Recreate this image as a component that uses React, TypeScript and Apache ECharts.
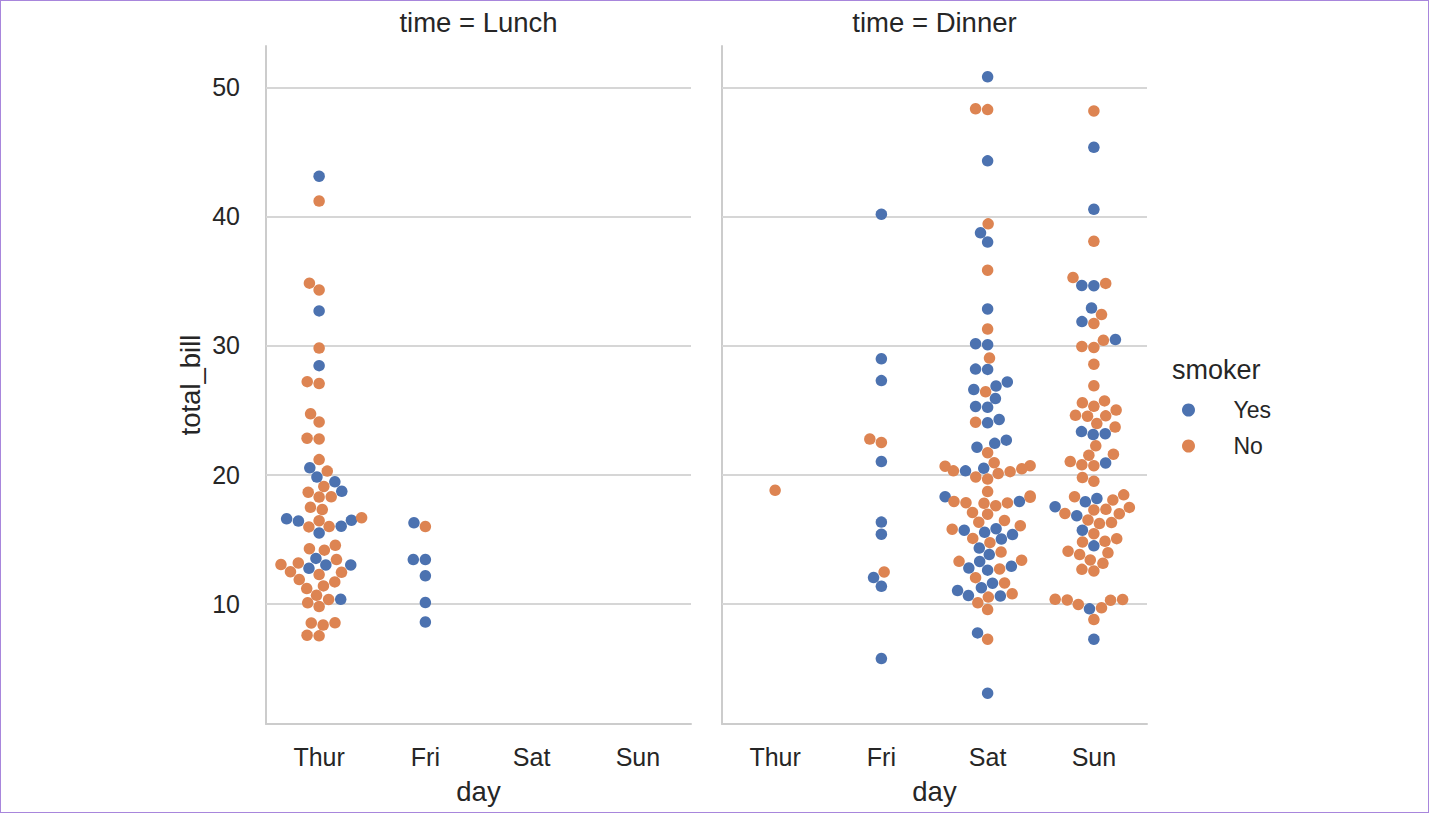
import React, { useEffect, useRef } from "react";
import * as echarts from "echarts";

// ---- categories / ticks ----
const days = ["Thur", "Fri", "Sat", "Sun"];
const yTicks = [10, 20, 30, 40, 50];
const panelTitles = ["time = Lunch", "time = Dinner"];
const hues = ["Yes", "No"];

// ---- total_bill values (tips data) ----
const lunchThurYes = [19.44, 32.68, 16.0, 19.81, 28.44, 15.48, 16.58, 10.34, 43.11, 13.0, 13.51, 18.71, 12.74, 13.0, 16.4, 20.53, 16.47];
const lunchThurNo = [27.2, 22.76, 17.29, 16.66, 10.07, 15.98, 34.83, 13.03, 18.28, 24.71, 21.16, 10.65, 12.43, 24.08, 11.69, 13.42, 14.26, 15.95, 12.48, 29.8, 8.52, 14.52, 11.38, 22.82, 19.08, 20.27, 11.17, 12.26, 18.26, 8.51, 10.33, 14.15, 13.16, 17.47, 34.3, 41.19, 27.05, 16.43, 8.35, 18.64, 11.87, 9.78, 7.51, 7.56];
const lunchFriYes = [12.16, 13.42, 8.58, 13.42, 16.27, 10.09];
const lunchFriNo = [15.98];

const dinnerThurYes: number[] = [];
const dinnerThurNo = [18.78];
const dinnerFriYes = [28.97, 5.75, 16.32, 40.17, 27.28, 12.03, 21.01, 11.35, 15.38];
const dinnerFriNo = [22.49, 22.75, 12.46];
const dinnerSatYes = [38.01, 11.24, 20.29, 13.81, 11.02, 18.29, 3.07, 15.01, 26.86, 25.28, 17.92, 44.3, 22.42, 15.36, 20.49, 25.21, 14.31, 10.59, 10.63, 50.81, 15.81, 26.59, 38.73, 24.27, 12.76, 30.06, 25.89, 13.27, 28.17, 12.9, 28.15, 11.59, 7.74, 30.14, 22.12, 24.01, 15.69, 15.53, 12.6, 32.83, 27.18, 22.67];
const dinnerSatNo = [20.65, 17.92, 20.29, 15.77, 39.42, 19.82, 17.81, 13.37, 12.69, 21.7, 19.65, 9.55, 18.35, 15.06, 20.69, 17.78, 24.06, 16.31, 16.93, 18.69, 31.27, 16.04, 26.41, 48.27, 17.59, 20.08, 16.45, 20.23, 12.02, 17.07, 14.73, 10.51, 20.92, 18.24, 14.0, 7.25, 48.33, 20.45, 13.28, 11.61, 10.77, 10.07, 35.83, 29.03, 17.82];
const dinnerSunYes = [17.51, 7.25, 31.85, 16.82, 32.9, 17.89, 14.48, 9.6, 34.63, 34.65, 23.33, 45.35, 23.17, 40.55, 20.9, 30.46, 18.15, 23.1, 15.69];
const dinnerSunNo = [16.99, 10.34, 21.01, 23.68, 24.59, 25.29, 8.77, 26.88, 15.04, 14.78, 10.27, 35.26, 15.42, 18.43, 14.83, 21.58, 10.33, 16.29, 16.97, 17.46, 13.94, 9.68, 30.4, 18.29, 22.23, 32.4, 28.55, 18.04, 12.54, 10.29, 34.81, 9.94, 25.56, 19.49, 38.07, 23.95, 25.71, 17.31, 29.93, 14.07, 13.13, 17.26, 24.55, 19.77, 29.85, 48.17, 25.0, 13.39, 16.49, 21.5, 12.66, 16.21, 13.81, 24.52, 20.76, 31.71, 20.69];

const panels = [
  { yes: [lunchThurYes, lunchFriYes, [], []] as number[][], no: [lunchThurNo, lunchFriNo, [], []] as number[][] },
  { yes: [dinnerThurYes, dinnerFriYes, dinnerSatYes, dinnerSunYes], no: [dinnerThurNo, dinnerFriNo, dinnerSatNo, dinnerSunNo] },
];

// ---- layout ----
const FONT = "'Liberation Sans', Arial, Helvetica, sans-serif";
const TEXT = "#262626";
const SPINE = "#cccccc";
const COLORS = ["#4C72B0", "#DD8452"];
const GRID_LEFTS = [266, 722];
const GRID_TOP = 46;
const GRID_W = 425;
const GRID_H = 678;
const Y_MIN = 0.683;
const Y_MAX = 53.197;
const DOT = 11.5;

const PX_PER_Y = GRID_H / (Y_MAX - Y_MIN);
const PX_PER_X = GRID_W / days.length;
const GUTTER = 0.4 * PX_PER_X;

// seaborn-style beeswarm: returns horizontal offsets (data units)
function swarm(values: number[]): number[] {
  const order = values.map((_, i) => i).sort((a, b) => values[a] - values[b]);
  const placed: { x: number; y: number }[] = [];
  const out: number[] = new Array(values.length).fill(0);
  order.forEach((i, k) => {
    const y = values[i] * PX_PER_Y;
    if (k === 0) {
      placed.push({ x: 0, y });
      out[i] = 0;
      return;
    }
    const neighbors: { x: number; y: number }[] = [];
    for (let j = placed.length - 1; j >= 0; j--) {
      if (y - placed[j].y < DOT) neighbors.push(placed[j]);
      else break;
    }
    const cands: number[] = [0];
    let leftFirst = true;
    for (const n of neighbors) {
      const dy = y - n.y;
      const dx = Math.sqrt(Math.max(DOT * DOT - dy * dy, 0)) * 1.05;
      if (leftFirst) cands.push(n.x - dx, n.x + dx);
      else cands.push(n.x + dx, n.x - dx);
      leftFirst = !leftFirst;
    }
    const sorted = cands.map((c, idx) => ({ c, idx })).sort((a, b) => Math.abs(a.c) - Math.abs(b.c) || a.idx - b.idx);
    let chosen = sorted[sorted.length - 1].c;
    for (const { c } of sorted) {
      if (neighbors.every((n) => (n.x - c) ** 2 + (n.y - y) ** 2 >= DOT * DOT - 1e-6)) {
        chosen = c;
        break;
      }
    }
    placed.push({ x: chosen, y });
    out[i] = chosen;
  });
  return out.map((x) => Math.max(-GUTTER, Math.min(GUTTER, x)) / PX_PER_X);
}

function buildPoints(panelIdx: number) {
  const p = panels[panelIdx];
  const yes: number[][] = [];
  const no: number[][] = [];
  for (let d = 0; d < days.length; d++) {
    const combined = p.yes[d].concat(p.no[d]);
    if (!combined.length) continue;
    const off = swarm(combined);
    p.yes[d].forEach((v, k) => yes.push([d + off[k], v]));
    p.no[d].forEach((v, k) => no.push([d + off[p.yes[d].length + k], v]));
  }
  return [yes, no];
}

export default function App() {
  const ref = useRef<HTMLDivElement>(null);
  useEffect(() => {
    if (!ref.current) return;
    const chart = echarts.init(ref.current, null, { renderer: "svg" });

    const grids = GRID_LEFTS.map((left) => ({ left, top: GRID_TOP, width: GRID_W, height: GRID_H }));
    const xAxes = GRID_LEFTS.map((_, i) => ({
      type: "value",
      gridIndex: i,
      min: -0.5,
      max: days.length - 0.5,
      axisLine: { show: true, onZero: false, lineStyle: { color: SPINE, width: 2 } },
      axisTick: { show: false },
      splitLine: { show: false },
      axisLabel: {
        customValues: days.map((_, k) => k),
        formatter: (v: number) => days[Math.round(v)] ?? "",
        fontSize: 25,
        color: TEXT,
        fontFamily: FONT,
        margin: 20,
      },
      name: "day",
      nameLocation: "middle",
      nameGap: 53,
      nameTextStyle: { fontSize: 27.5, color: TEXT, fontFamily: FONT },
    }));
    const yAxes = GRID_LEFTS.map((_, i) => ({
      type: "value",
      gridIndex: i,
      min: Y_MIN,
      max: Y_MAX,
      axisLine: { show: true, onZero: false, lineStyle: { color: SPINE, width: 2 } },
      axisTick: { show: false },
      splitLine: { show: false },
      axisLabel: {
        show: i === 0,
        customValues: yTicks,
        fontSize: 25,
        color: TEXT,
        fontFamily: FONT,
        margin: 26,
      },
      name: i === 0 ? "total_bill" : "",
      nameLocation: "middle",
      nameGap: 62,
      nameRotate: 90,
      nameTextStyle: { fontSize: 27.5, color: TEXT, fontFamily: FONT },
    }));

    const series: any[] = [];
    GRID_LEFTS.forEach((_, i) => {
      series.push({
        type: "scatter",
        name: "grid" + i,
        xAxisIndex: i,
        yAxisIndex: i,
        data: [],
        z: 1,
        silent: true,
        markLine: {
          silent: true,
          z: 1,
          symbol: ["none", "none"],
          label: { show: false },
          lineStyle: { color: "#d6d6d6", width: 2, type: "solid" },
          data: yTicks.map((v) => ({ yAxis: v })),
        },
      });
      const pts = buildPoints(i);
      hues.forEach((h, k) => {
        series.push({
          type: "scatter",
          name: h,
          xAxisIndex: i,
          yAxisIndex: i,
          z: 5,
          symbol: "circle",
          symbolSize: DOT,
          itemStyle: { color: COLORS[k], opacity: 1 },
          data: pts[k],
        });
      });
    });

    chart.setOption({
      animation: false,
      textStyle: { fontFamily: FONT },
      grid: grids,
      xAxis: xAxes,
      yAxis: yAxes,
      legend: {
        data: hues,
        orient: "vertical",
        left: 1177,
        top: 393,
        itemWidth: 80,
        itemHeight: 13,
        itemGap: 12,
        icon: "circle",
        textStyle: { fontSize: 23, lineHeight: 24, color: TEXT, fontFamily: FONT },
      },
      graphic: [
        ...panelTitles.map((t, i) => ({
          type: "text",
          x: GRID_LEFTS[i] + GRID_W / 2,
          y: 22,
          style: { text: t, fontSize: 27.5, fill: TEXT, fontFamily: FONT, textAlign: "center", textVerticalAlign: "middle" },
        })),
        {
          type: "text",
          x: 1172,
          y: 370,
          style: { text: "smoker", fontSize: 27, fill: TEXT, fontFamily: FONT, textAlign: "left", textVerticalAlign: "middle" },
        },
      ],
      series,
    });
    return () => chart.dispose();
  }, []);

  return (
    <>
      <div ref={ref} style={{ position: "fixed", left: 0, top: 0, width: 1430, height: 814, background: "#fff" }} />
      <div
        style={{
          position: "fixed",
          left: 0,
          top: 0,
          width: 1429,
          height: 813,
          boxSizing: "border-box",
          border: "1.5px solid #a886dc",
          pointerEvents: "none",
        }}
      />
    </>
  );
}
